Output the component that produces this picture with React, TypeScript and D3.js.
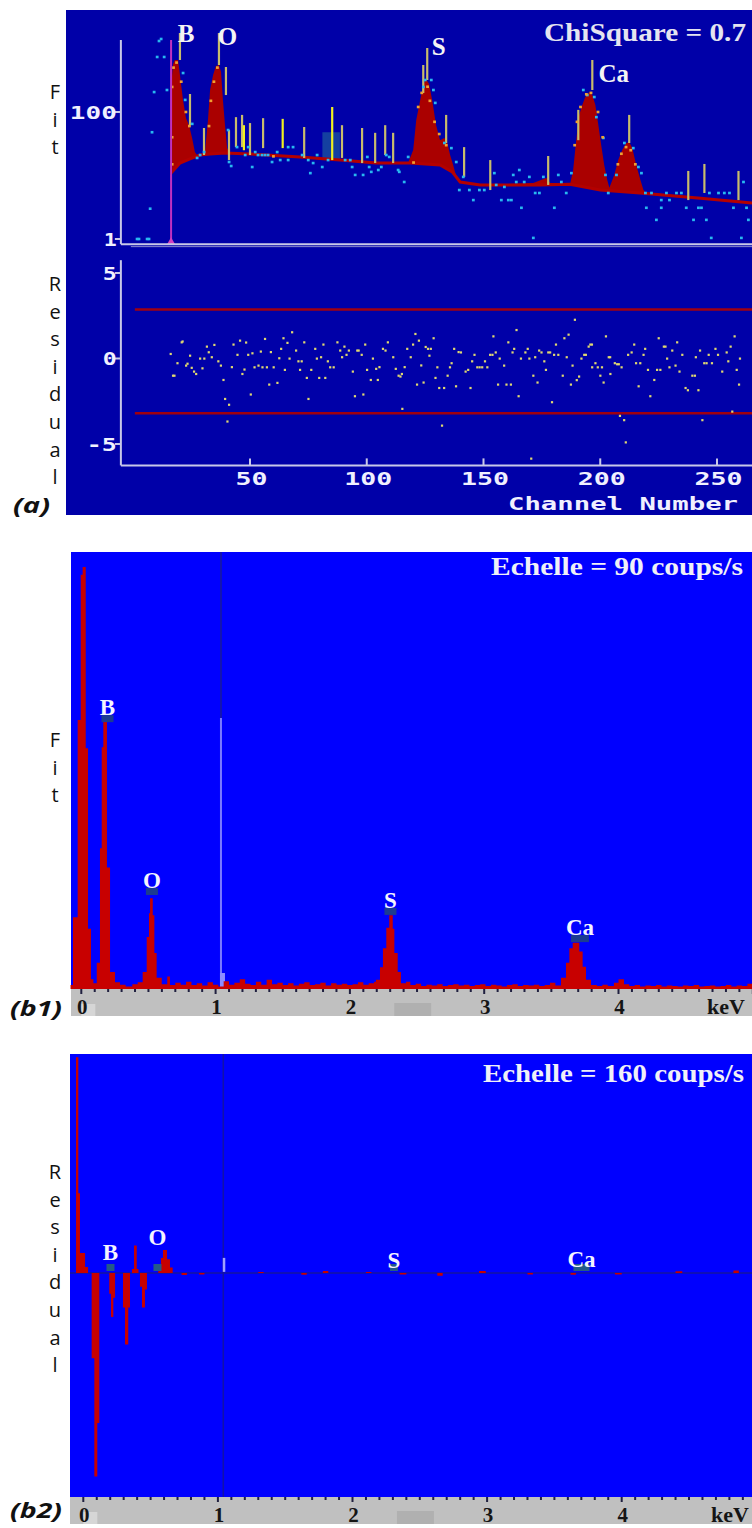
import React from 'react';
import * as d3 from 'd3';

type P = [number, number];

// ================= Panel (a): fit of the spectrum (log counts vs channel) =================
const channelTicks = [50, 100, 150, 200, 250];
const fitTicks = [1, 100];
const residualTicks = [5, 0, -5];
const fitAxisExtent: P = [0.83, 1360];
const residualAxisExtent: P = [-6.25, 5.75];
const channelAxisExtent: P = [-5.3, 265.1];

// background (continuum) under the fit: [channel, counts]
const backgroundCurve: P[] = [
  [16.2, 10.9], [20, 15.7], [24.3, 18.2], [28.6, 21], [32.9, 21.8], [39.3, 22.6], [50, 21.8],
  [71.4, 19.6], [88.6, 17.5], [104, 15.7], [118.6, 15.7], [131.4, 14.6], [136.6, 11.4], [140, 7.9],
  [148.6, 7.1], [174.3, 7.1], [187, 7.3], [200, 5.9], [217, 5.3], [243, 4.4], [265, 3.7],
];

// total fit: [channel, counts]
const fitCurve: P[] = [
  [16.2, 10.9], [16.3, 266], [17.0, 560], [17.8, 659], [19.2, 659], [20.0, 383], [21.3, 155],
  [22.6, 80], [23.9, 62], [25.2, 39], [26.4, 23.4], [27.3, 21], [28.6, 21.5], [30.3, 22],
  [30.7, 23], [32.0, 75], [32.9, 222], [34.2, 383], [35.4, 530], [36.7, 550], [37.6, 427],
  [38.4, 155], [39.3, 62], [40.2, 27], [41.0, 23.4], [42, 22.6], [50, 22], [60, 21], [71.4, 19.6],
  [80, 18.5], [88.6, 17.5], [95, 16.5], [104, 15.7], [117.7, 15.7], [119.9, 25.2], [121.2, 75],
  [122.9, 155], [124.2, 266], [125.4, 331], [126.7, 276], [128.0, 155], [129.7, 62], [131.4, 36],
  [133.2, 39], [134.4, 33.7], [135.7, 21], [137.0, 14.6], [137.9, 11], [139.2, 8.2], [141, 7.6],
  [150, 7.1], [171.3, 7.6], [176.9, 9.1], [178.6, 7.6], [187.2, 7.6], [188.4, 12.2], [189.7, 36],
  [191.0, 90], [192.3, 129], [193.6, 172], [195.3, 206], [196.6, 185], [197.9, 129], [199.2, 62],
  [200.4, 30.2], [201.7, 14.6], [203.0, 8.5], [203.9, 6.4], [204.7, 7.6], [206.0, 10.2],
  [207.7, 17.5], [209.4, 25.2], [211.2, 32.5], [212.4, 33.7], [213.7, 27.1], [215.4, 14.6],
  [217.2, 8.5], [218.5, 5.9], [219.4, 5.4], [240, 4.6], [265, 3.7],
];

// measured data points: [channel, counts]
const dataCyan: P[] = [
  [1.6, 1.0], [2.4, 1.0], [5.9, 1.0], [6.7, 1.0], [7.2, 3.0], [8.0, 48], [8.9, 206], [10.2, 735], [11.0, 1312],
  [11.9, 1412], [13.2, 735], [14.4, 222], [21.3, 411], [22.2, 155], [25.2, 65], [28.6, 21], [27.3, 18.9],
  [30.3, 23.4], [40.6, 52], [41.0, 16.3], [41.9, 14.1], [44.4, 28], [47.9, 21], [49.2, 28], [50.9, 13.6],
  [52.2, 23.4], [53.4, 21], [55.1, 21], [56.4, 21], [57.7, 21], [59.4, 16.3], [61.6, 23.4], [62.9, 17.5],
  [66.3, 28], [68.4, 28], [66.3, 17.5], [72.3, 21], [74.9, 17.5], [75.8, 10.9], [77.0, 15.7], [78.7, 21],
  [80.9, 13.6], [83.4, 17.5], [90.7, 17.5], [92.9, 17.5], [93.7, 13.6], [95.0, 10.2], [98.4, 10.2],
  [100.2, 19.6], [101.0, 13.6], [101.9, 11.4], [104.9, 12.2], [106.2, 13.6], [108.3, 21], [109.6, 19.6],
  [113.4, 12.2], [113.9, 11.4], [116.0, 7.9], [117.7, 19.6], [124.2, 248], [125.0, 319], [127.6, 319],
  [128.5, 222], [129.3, 139], [133.2, 32.5], [136.2, 27], [138.3, 16.3], [139.6, 5.9], [141.3, 9.5],
  [143.9, 5.9], [145.6, 4.1], [148.2, 5.9], [150.3, 5.9], [154.6, 10.9], [155.4, 7.1], [157.6, 4.1],
  [158.9, 6.6], [160.6, 4.1], [161.9, 4.1], [162.7, 10.2], [164.0, 7.9], [165.3, 12.2], [166.2, 3.1],
  [167.4, 7.9], [169.6, 9.5], [171.3, 1.04], [172.1, 5.3], [173.9, 5.3], [175.6, 9.5], [180.3, 3.1],
  [182.0, 10.2], [183.3, 7.9], [185.4, 5.3], [187.6, 10.9], [192.7, 222], [194.4, 185], [197.4, 172],
  [198.3, 83], [201.3, 39], [202.2, 10.2], [203.4, 5.3], [206.9, 10.2], [210.3, 32.5], [214.1, 27],
  [216.3, 13.6], [217.6, 10.9], [219.3, 5.3], [219.7, 3.1], [221.9, 5.3], [224.0, 2.0], [226.1, 3.1],
  [226.1, 4.1], [228.3, 5.3], [229.6, 4.1], [232.6, 5.3], [234.7, 5.3], [236.8, 3.1], [239.9, 2.0],
  [242.0, 3.1], [243.3, 3.1], [245.4, 2.0], [246.7, 5.3], [247.5, 1.04], [250.6, 5.3], [253.1, 5.3],
  [255.3, 5.3], [257.0, 3.1], [260.4, 1.04], [261.3, 7.9], [262.6, 3.1], [263.4, 2.0],
];
const dataOrange: P[] = [
  [16.6, 248], [17.2, 500], [18.5, 600], [20.5, 300], [22.5, 100], [24.0, 60], [16.6, 40], [16.6, 15],
  [32.4, 60], [33.2, 150], [34.5, 300], [36.0, 500], [122, 120], [123.5, 200], [126, 250], [127, 150],
  [129, 70], [131, 45], [134, 30], [189, 30], [190, 70], [191.5, 120], [194, 190], [196, 200],
  [199, 100], [201, 40], [207.5, 15], [209, 22], [211, 28], [213, 25], [215, 15], [60, 20], [120, 16],
];

// vertical marker lines: [channel, low counts, high counts]
const markerLines: [number, number, number][] = [
  [20, 659, 1754], [24.3, 62, 192], [30.3, 21, 56], [36.7, 550, 1754], [39.7, 185, 511],
  [41, 17.5, 52], [44, 28, 83], [46.6, 28, 90], [47.4, 25, 62], [50, 21, 67], [55.6, 27, 80],
  [64, 27, 78], [73.2, 18.9, 58], [85.2, 17.5, 120], [89.4, 18.9, 62], [98, 15.7, 56],
  [103.6, 15.7, 47], [107.9, 21, 62], [111.3, 15.7, 47], [124.2, 199, 550], [125.9, 319, 1018],
  [134, 32.5, 90], [141.7, 9.5, 28], [152.9, 5.9, 17.5], [177.7, 7.1, 20.3], [190.6, 36, 108],
  [196.6, 222, 659], [212.4, 32.5, 90], [237.7, 4.1, 11.8], [244.6, 5.3, 15.2], [259.2, 4.1, 11.8],
];
const brightMarkerChannels = [47.4, 64, 85.2];

// normalised residuals: [channel, residual]
const residuals: P[] = [
  [16, 0.27], [17, -1.0], [17.6, -1.0], [18.9, -0.27], [20.7, 0.95], [21.1, 1.0], [22.6, -0.41],
  [23.2, -0.3], [24.3, 0.17], [25, -0.54], [26, -0.76], [26.9, -0.9], [28.6, 0], [29.6, -0.57],
  [30.4, 0], [31.5, 0.7], [32.3, 0.37], [33.6, 0.08], [34.7, 0.8], [36.4, -0.16], [37.5, -0.41],
  [38.6, -1.25], [39.3, -2.36], [41, -2.7], [40.3, -3.68], [42.2, -0.5], [42.9, 0.82], [44.6, 0.22],
  [45.7, 1.05], [46.7, -0.9], [47.6, -0.64], [48.3, 0.94], [49.2, 0.22], [50.3, -2.1], [51, 0.31],
  [51.9, -0.51], [53.6, -0.41], [54.6, 0.41], [55.3, -0.51], [56.4, 1.15], [57.2, -0.51], [58.2, -1.52],
  [58.9, 0.38], [60.1, -0.51], [61.7, -1.42], [62.5, 0.02], [63.3, 0.57], [64.3, 1.19], [64.9, -0.66],
  [66, 0.92], [66.9, 0], [68, 1.54], [69.7, 0.47], [70.7, -0.16], [71.4, -0.66], [72.1, -0.16],
  [73.2, 0.95], [74.3, -1.13], [75, -2.36], [76.2, -0.66], [77.9, 0.57], [78.6, 0], [79.6, -1.13],
  [80.4, 0.08], [81.4, 0.82], [82.2, -1.13], [83.3, -0.16], [84.3, -0.51], [85.8, -0.51], [87.4, 0.95],
  [88.6, 0.47], [89.4, 0.08], [90.4, 0.7], [91.3, 0.22], [92.3, 0.47], [94, -0.76], [94.9, -2.2],
  [95.9, 0.47], [96.5, 0.47], [97.8, 0.22], [98.5, -2.1], [99.3, 0.82], [100.1, -0.66], [101.7, -1.25],
  [102.6, 0], [104, -0.6], [104.7, -1.25], [105.4, -0.5], [106.9, 0.57], [108, 0.47], [109, 0.95],
  [111.3, 0.08], [112.4, -0.6], [113.6, -1.0], [114.4, -1.05], [115, -0.9], [115.2, -2.94], [116.2, -0.5],
  [117.3, 0.57], [118.8, 0.08], [119.8, 0.82], [120.8, 1.44], [121.5, -1.52], [122.3, 1.05], [123.3, -0.4],
  [124.3, -1.4], [125.2, 0.68], [126.2, 0.57], [126.8, 0.17], [127.4, 0.57], [128.6, 1.19], [129.4, -1.13],
  [130.2, -0.51], [131, -1.72], [132.2, -3.92], [133.1, -1.72], [134.6, -1.0], [135.6, -0.51],
  [136.3, -0.27], [137.4, 0.57], [138.2, -1.62], [139.3, 0.38], [140.3, 0.36], [142.3, -0.76],
  [143.4, -0.66], [144.4, -1.72], [145.1, -0.16], [146.1, 0.22], [147.3, -0.51], [148.3, -0.51],
  [149.4, -0.51], [150.6, -0.16], [151.6, -0.51], [152.8, 0.22], [153.8, 0.22], [154.2, 1.3],
  [155.2, 0.36], [156.2, -1.52], [156.9, 0], [158.8, -0.41], [159.8, -1.52], [160.6, 0.95],
  [161.7, -1.52], [162.4, 0.36], [163.1, 0.57], [164.1, 1.67], [165, -2.2], [166, 0], [167.9, 0.36],
  [168.9, 0.57], [169.6, 0], [170.4, -5.85], [171.3, -1.0], [172.1, 0.08], [173.1, -1.4], [173.8, 0.47],
  [174.8, 0.36], [176, -0.16], [176.7, -0.66], [177.7, 0.36], [178.5, 0.36], [179.3, -2.55],
  [180.2, 0.22], [181, 0.82], [182, 0.22], [183.9, -1.0], [184.6, 1.19], [185.6, 0.08], [186.4, 1.4],
  [187.4, -1.52], [188.1, -0.41], [189.1, 2.27], [189.9, -1.26], [190.9, -1.05], [191.9, 0],
  [193.1, 0.22], [193.8, 0.22], [195, 0.7], [195.7, 0.82], [196.4, 0.82], [196.5, -0.51], [197.9, -0.27],
  [198.9, -0.51], [200, -1.0], [200.7, -0.51], [201.4, -1.4], [202.4, 1.3], [203.6, 0.08], [204.2, 0.08],
  [204.3, -0.9], [206.2, -0.27], [207.2, -0.33], [207.9, -0.33], [208.4, -3.35], [209.1, -0.51],
  [210.2, -3.6], [210.9, -4.9], [211.9, 0.22], [213.4, 0.36], [214.5, 0.82], [215.3, -0.27],
  [216.4, -1.62], [217.1, -0.27], [218.5, 0.22], [219.2, 0.57], [220.4, -0.66], [221.4, -2.2],
  [223.1, -1.25], [224.3, -0.66], [225, 1.19], [225.7, -0.66], [227.2, 0.7], [227.9, 0.7], [228.6, 0],
  [229.6, -0.51], [230.8, 0.47], [232.2, -0.41], [232.9, 0.95], [233.9, -0.76], [235.1, 0.22],
  [236.5, -1.72], [237.5, -1.85], [239.4, -1.0], [240.5, -1.0], [240.9, 0.08], [242, -1.85],
  [242.7, 0.47], [243.7, -3.6], [244.5, -0.27], [245.5, -0.27], [246.4, 0.22], [247.8, -0.27],
  [249.3, 0.57], [250.4, 0.22], [252.2, -0.76], [254.1, 0.36], [254.8, -0.16], [255.8, 0.7],
  [256.5, -3.1], [257.5, 1.3], [258.4, -0.66], [259.4, -1.52], [259.8, 0],
];
const residualLimits = [2.87, -3.2];
const residualLimitStart = 0.7;

const peakLabelsA = [
  { text: 'B', ch: 22.6, counts: 1266 },
  { text: 'O', ch: 40.4, counts: 1135 },
  { text: 'S', ch: 130.8, counts: 790 },
  { text: 'Ca', ch: 205.8, counts: 297 },
];
const startChannel = 16.2;
const startSegment: P = [10.2, 75];
const highlightChannels: P = [81, 88.5];
const highlightCounts: P = [17.5, 48];

// ================= Panel (b1): measured spectrum (counts/s vs keV) =================
const keVTicks = [0, 1, 2, 3, 4];
const cursorKeV = 1.04;
const spectrumB1: P[] = [
  [-0.08, 0.8], [-0.062, 14.8], [-0.027, 55.4], [-0.004, 85.3], [0.010, 86.9], [0.033, 49.6],
  [0.050, 12.4], [0.072, 2.0], [0.09, 1.2], [0.115, 5.4], [0.139, 29], [0.152, 49.8], [0.164, 55.4],
  [0.191, 25], [0.214, 3.5], [0.251, 1.4], [0.288, 0.9], [0.33, 0.5], [0.38, 1.0], [0.42, 1.4],
  [0.457, 3.5], [0.487, 10.7], [0.504, 15.6], [0.512, 18.7], [0.532, 15.2], [0.544, 7.4], [0.561, 2.3],
  [0.599, 1.0], [0.64, 2.6], [0.66, 0.8], [0.70, 1.3], [0.74, 0.9], [0.78, 1.5], [0.82, 0.8],
  [0.86, 1.2], [0.90, 0.7], [0.94, 1.4], [0.98, 0.9], [1.02, 0.5], [1.06, 1.6], [1.10, 0.9],
  [1.14, 1.3], [1.18, 2.0], [1.22, 1.1], [1.26, 0.8], [1.30, 1.5], [1.34, 0.9], [1.38, 1.9],
  [1.42, 1.0], [1.46, 1.3], [1.50, 0.8], [1.54, 1.2], [1.58, 0.7], [1.62, 1.1], [1.66, 1.4],
  [1.70, 0.8], [1.74, 1.0], [1.78, 1.3], [1.82, 0.7], [1.86, 1.2], [1.90, 0.9], [1.94, 1.1],
  [1.98, 0.8], [2.02, 1.0], [2.06, 1.4], [2.10, 0.9], [2.14, 1.2], [2.18, 1.5], [2.194, 1.9],
  [2.224, 4.5], [2.246, 8.4], [2.271, 12.6], [2.293, 15.2], [2.319, 12.4], [2.331, 7.4], [2.356, 3.5],
  [2.380, 1.2], [2.418, 1.5], [2.45, 0.8], [2.49, 1.1], [2.53, 0.6], [2.57, 0.9], [2.61, 0.7],
  [2.65, 1.0], [2.69, 0.6], [2.73, 0.8], [2.77, 1.0], [2.81, 0.7], [2.85, 0.9], [2.89, 0.6],
  [2.93, 0.8], [2.97, 1.0], [3.01, 0.6], [3.05, 0.9], [3.09, 0.7], [3.13, 0.5], [3.17, 0.8],
  [3.21, 1.0], [3.25, 0.6], [3.29, 0.8], [3.33, 0.7], [3.37, 0.9], [3.41, 0.6], [3.45, 0.8],
  [3.49, 1.3], [3.53, 0.7], [3.572, 2.3], [3.609, 5.4], [3.634, 8.4], [3.659, 9.5], [3.708, 7.7],
  [3.733, 4.6], [3.758, 1.9], [3.795, 0.8], [3.84, 0.6], [3.88, 0.9], [3.92, 0.6], [3.966, 1.3],
  [4.00, 2.0], [4.041, 1.0], [4.08, 0.6], [4.12, 0.8], [4.16, 0.5], [4.20, 0.7], [4.24, 0.6],
  [4.28, 0.8], [4.32, 0.5], [4.36, 0.7], [4.40, 0.6], [4.44, 0.5], [4.48, 0.7], [4.52, 0.6],
  [4.56, 0.8], [4.60, 0.5], [4.64, 0.6], [4.68, 0.7], [4.72, 0.5], [4.76, 0.6], [4.80, 0.8],
  [4.84, 0.5], [4.88, 0.7], [4.92, 0.6], [4.96, 1.1], [5.01, 0.6],
];
const peakLabelsB1 = [
  { text: 'B', keV: 0.195, v: 56.4 },
  { text: 'O', keV: 0.526, v: 20.8 },
  { text: 'S', keV: 2.302, v: 16.7 },
  { text: 'Ca', keV: 3.713, v: 11.1 },
];

// ================= Panel (b2): residual spectrum =================
const residualB2: P[] = [
  [-0.1, 0], [-0.054, 157], [-0.037, 58], [-0.025, 14.5], [0.013, 4.4], [0.035, 0], [0.062, -62],
  [0.082, -148], [0.104, -109], [0.119, 0], [0.193, -15], [0.206, -32], [0.223, -18], [0.236, 0],
  [0.295, -25], [0.310, -52], [0.334, -25], [0.347, 0], [0.362, 3], [0.377, 20], [0.397, 3],
  [0.41, 0], [0.421, -10], [0.436, -25], [0.458, -12], [0.473, 0], [0.557, 5], [0.577, 11],
  [0.592, 16.7], [0.622, 10], [0.644, 4], [0.664, 0], [0.73, -1.5], [0.77, 0], [0.86, -1], [0.9, 0],
  [1.3, 0.8], [1.34, 0], [1.62, -1.2], [1.66, 0], [1.78, 1.5], [1.82, 0], [2.1, 0.8], [2.14, 0],
  [2.35, -1], [2.4, 0], [2.63, -2], [2.67, 0], [2.94, 1.5], [2.99, 0], [3.3, -1], [3.34, 0],
  [3.62, -1.2], [3.66, 0], [3.95, -1], [4.0, 0], [4.4, 1.2], [4.45, 0], [4.83, 1.8], [4.87, 0], [5.0, 0],
];
const peakLabelsB2 = [
  { text: 'B', keV: 0.202, v: 9.5 },
  { text: 'O', keV: 0.551, v: 20.4 },
  { text: 'S', keV: 2.308, v: 3.6 },
  { text: 'Ca', keV: 3.701, v: 4.4 },
];

const minorKeVTicks = d3.range(0, 51).map((i) => i / 10);

// ================= scales =================
const xA = d3.scaleLinear().domain([50, 250]).range([250, 717]);
const yFit = d3.scaleLog().domain([1, 100]).range([239, 112]);
const yRes = d3.scaleLinear().domain([-5, 5]).range([444, 273]);

const xB1 = d3.scaleLinear().domain([0, 4]).range([81.3, 618.5]);
const yB1 = d3.scaleLinear().domain([0, 90]).range([989, 552]);
const xB2 = d3.scaleLinear().domain([0, 4]).range([83.3, 621.7]);
const yB2 = d3.scaleLinear().domain([-160, 160]).range([1493, 1053]);

const AXIS = '#c8c8e8';
const MONO = "'DejaVu Sans Mono', monospace";
const SERIF = "'Liberation Serif', 'DejaVu Serif', serif";
const SANS = "'Open Sans', 'Noto Sans', sans-serif";

function VerticalWord({ word, x, y0, step }: { word: string; x: number; y0: number; step: number }) {
  return (
    <g>
      {word.split('').map((c, i) => (
        <text key={i} x={x} y={y0 + i * step} fontFamily={SANS} fontSize={20} fill="#111" textAnchor="middle">{c}</text>
      ))}
    </g>
  );
}

function PanelA() {
  const line = d3.line<P>().x((d) => xA(d[0])).y((d) => yFit(d[1]));
  const polygon = line([...fitCurve, ...backgroundCurve.slice().reverse()]) + 'Z';
  const bgPath = line(backgroundCurve) || '';
  const axX0 = xA(channelAxisExtent[0]);
  const axX1 = xA(channelAxisExtent[1]);
  const yTop = yFit(fitAxisExtent[1]);
  const yBot = yFit(fitAxisExtent[0]);
  const rTop = yRes(residualAxisExtent[1]);
  const rBot = yRes(residualAxisExtent[0]);
  return (
    <g>
      <rect x={66} y={10} width={686} height={505} fill="#0000a8" />
      <rect x={xA(highlightChannels[0])} y={yFit(highlightCounts[1])}
        width={xA(highlightChannels[1]) - xA(highlightChannels[0])}
        height={yFit(highlightCounts[0]) - yFit(highlightCounts[1])} fill="#1440a0" />
      <path d={polygon} fill="#aa0000" />
      <path d={bgPath} fill="none" stroke="#b40000" strokeWidth={3} />
      <line x1={xA(startChannel)} x2={xA(startChannel)} y1={yFit(startSegment[1])} y2={yFit(startSegment[0])}
        stroke="#000" strokeWidth={2} />
      {markerLines.map(([c, lo, hi], i) => (
        <line key={i} x1={xA(c)} x2={xA(c)} y1={yFit(hi)} y2={yFit(lo)}
          stroke={brightMarkerChannels.includes(c) ? '#f0f020' : '#c8bc6c'} strokeWidth={2.2} />
      ))}
      {dataCyan.map(([c, v], i) => (
        <rect key={i} x={xA(c) - 1.3} y={yFit(v) - 1.3} width={2.8} height={2.6} fill="#28b8f0" />
      ))}
      {dataOrange.map(([c, v], i) => (
        <rect key={i} x={xA(c) - 1.3} y={yFit(v) - 1.3} width={2.8} height={2.6} fill="#f0a030" />
      ))}
      <line x1={xA(startChannel)} x2={xA(startChannel)} y1={yTop} y2={yBot} stroke="#c030c0" strokeWidth={2} />
      <path d={`M${xA(startChannel) - 4},${yBot} L${xA(startChannel)},${yBot - 7} L${xA(startChannel) + 4},${yBot} Z`} fill="#d040c0" />
      <line x1={axX0} x2={axX0} y1={yTop} y2={yBot} stroke={AXIS} strokeWidth={2} />
      <line x1={axX0} x2={axX1} y1={yBot} y2={yBot} stroke={AXIS} strokeWidth={2} />
      <line x1={axX0 + 10} x2={axX1} y1={yBot + 2.5} y2={yBot + 2.5} stroke="#8888d0" strokeWidth={1} />
      {fitTicks.map((t) => (
        <g key={t}>
          <line x1={axX0 - 6} x2={axX0} y1={yFit(t)} y2={yFit(t)} stroke={AXIS} strokeWidth={2} />
          <text x={axX0 - 4} y={yFit(t) + 6.5} fontFamily={MONO} fontWeight="bold" fontSize={18} fill="#f0f0ff"
            textAnchor="end" textLength={t === 100 ? 47 : 13} lengthAdjust="spacingAndGlyphs">{t}</text>
        </g>
      ))}
      {peakLabelsA.map((p) => (
        <text key={p.text} x={xA(p.ch)} y={yFit(p.counts)} fontFamily={SERIF} fontWeight="bold" fontSize={25}
          fill="#f4f4f4" textAnchor="middle">{p.text}</text>
      ))}
      <text x={746} y={41} fontFamily={SERIF} fontWeight="bold" fontSize={25} fill="#e4e4f0" textAnchor="end"
        textLength={202} lengthAdjust="spacingAndGlyphs">ChiSquare = 0.7</text>
      {residualLimits.map((r) => (
        <line key={r} x1={xA(residualLimitStart)} x2={752} y1={yRes(r)} y2={yRes(r)} stroke="#a00010" strokeWidth={2.5} />
      ))}
      {residuals.map(([c, r], i) => (
        <rect key={i} x={xA(c) - 1} y={yRes(r) - 1} width={2.2} height={2.2} fill="#e0d870" />
      ))}
      <line x1={axX0} x2={axX0} y1={rTop} y2={rBot} stroke={AXIS} strokeWidth={2} />
      <line x1={axX0} x2={axX1} y1={rBot} y2={rBot} stroke={AXIS} strokeWidth={2} />
      {residualTicks.map((t) => (
        <g key={t}>
          <line x1={axX0 - 6} x2={axX0} y1={yRes(t)} y2={yRes(t)} stroke={AXIS} strokeWidth={2} />
          <text x={axX0 - 4} y={yRes(t) + 6.5} fontFamily={MONO} fontWeight="bold" fontSize={18} fill="#f0f0ff"
            textAnchor="end" textLength={t < 0 ? 30 : 14} lengthAdjust="spacingAndGlyphs">{t < 0 ? `-${-t}` : t}</text>
        </g>
      ))}
      {channelTicks.map((t) => (
        <g key={t}>
          <line x1={xA(t)} x2={xA(t)} y1={rBot - 7} y2={rBot} stroke={AXIS} strokeWidth={2} />
          <text x={xA(t) + 1.5} y={rBot + 20} fontFamily={MONO} fontWeight="bold" fontSize={18} fill="#f0f0ff"
            textAnchor="middle" textLength={t < 100 ? 32 : 48} lengthAdjust="spacingAndGlyphs">{t}</text>
        </g>
      ))}
      <text x={508} y={510} fontFamily={MONO} fontWeight="bold" fontSize={18} fill="#f0f0ff"
        textLength={230} lengthAdjust="spacingAndGlyphs">Channel Number</text>
    </g>
  );
}

function GrayAxis({ x, top, scale, keVx, right }: { x: number; top: number; scale: d3.ScaleLinear<number, number>; keVx: number; right: number }) {
  return (
    <g>
      <rect x={x} y={top} width={right - x} height={27} fill="#c0c0c0" />
      <rect x={scale(0)} y={top + 15} width={14} height={12} fill="#d6d6d6" />
      <rect x={scale(2.33)} y={top + 14} width={37} height={13} fill="#b0b0b0" />
      {minorKeVTicks.map((t) => (
        <rect key={t} x={scale(t) - 1} y={top} width={2} height={Number.isInteger(t) ? 5 : 3} fill="#202040" />
      ))}
      {keVTicks.map((t) => (
        <text key={t} x={scale(t) + 1} y={top + 25} fontFamily={SERIF} fontWeight="bold" fontSize={21} fill="#151515"
          textAnchor="middle">{t}</text>
      ))}
      <text x={keVx} y={top + 25} fontFamily={SERIF} fontWeight="bold" fontSize={22} fill="#151515"
        textAnchor="end">keV</text>
    </g>
  );
}

function PanelB1() {
  const area = d3.area<P>().x((d) => xB1(d[0])).y0(yB1(0)).y1((d) => yB1(d[1])).curve(d3.curveStepAfter);
  const cx = xB1(cursorKeV);
  return (
    <g>
      <rect x={71} y={552} width={681} height={437} fill="#0000ff" />
      <line x1={cx} x2={cx} y1={552} y2={718} stroke="#1414b0" strokeWidth={2} />
      <line x1={cx} x2={cx} y1={718} y2={989} stroke="#7a7aff" strokeWidth={2} />
      <rect x={cx - 1} y={973} width={5} height={16} fill="#8c8cff" />
      <path d={area(spectrumB1) || ''} fill="#c80000" />
      {peakLabelsB1.map((p) => (
        <g key={p.text}>
          <rect x={xB1(p.keV) - (p.text === 'Ca' ? 9 : 6)} y={yB1(p.v)} width={p.text === 'Ca' ? 18 : 12} height={7} fill="#1c3c90" />
          <text x={xB1(p.keV)} y={yB1(p.v)} fontFamily={SERIF} fontWeight="bold" fontSize={23} fill="#f4f4ff"
            textAnchor="middle">{p.text}</text>
        </g>
      ))}
      <text x={743} y={575} fontFamily={SERIF} fontWeight="bold" fontSize={25} fill="#f0f0f8" textAnchor="end"
        textLength={252} lengthAdjust="spacingAndGlyphs">Echelle = 90 coups/s</text>
      <GrayAxis x={71} top={989} scale={xB1} keVx={745} right={752} />
    </g>
  );
}

function PanelB2() {
  const area = d3.area<P>().x((d) => xB2(d[0])).y0(yB2(0)).y1((d) => yB2(d[1])).curve(d3.curveStepAfter);
  const cx = xB2(cursorKeV);
  const zeroY = yB2(0);
  return (
    <g>
      <rect x={70} y={1054} width={682} height={443} fill="#0000ff" />
      <line x1={cx} x2={cx} y1={1054} y2={1497} stroke="#1212a8" strokeWidth={1.6} />
      <line x1={70} x2={752} y1={zeroY} y2={zeroY} stroke="#1414a0" strokeWidth={1.5} />
      <path d={area(residualB2) || ''} fill="#c80000" />
      <rect x={cx - 0.5} y={yB2(11)} width={2.5} height={14} fill="#a0a0ff" />
      {peakLabelsB2.map((p) => (
        <g key={p.text}>
          <rect x={xB2(p.keV) - (p.text === 'Ca' ? 8 : 4)} y={zeroY - 9} width={p.text === 'Ca' ? 16 : 8} height={7} fill="#245a88" />
          <text x={xB2(p.keV)} y={yB2(p.v)} fontFamily={SERIF} fontWeight="bold" fontSize={23} fill="#f4f4ff"
            textAnchor="middle">{p.text}</text>
        </g>
      ))}
      <text x={744} y={1082} fontFamily={SERIF} fontWeight="bold" fontSize={25} fill="#f0f0f8" textAnchor="end"
        textLength={261} lengthAdjust="spacingAndGlyphs">Echelle = 160 coups/s</text>
      <GrayAxis x={70} top={1497} scale={xB2} keVx={749} right={752} />
    </g>
  );
}

export default function App() {
  return (
    <svg width={752} height={1528} style={{ position: 'absolute', left: 0, top: 0, background: '#fff' }}>
      <rect x={0} y={0} width={752} height={1528} fill="#fff" />
      <PanelA />
      <PanelB1 />
      <PanelB2 />
      <VerticalWord word="Fit" x={55} y0={99} step={27.5} />
      <VerticalWord word="Residual" x={55} y0={291} step={27.6} />
      <VerticalWord word="Fit" x={55} y0={747} step={27.6} />
      <VerticalWord word="Residual" x={55} y0={1179} step={27.6} />
      <text x={13} y={513} fontFamily={SANS} fontWeight="bold" fontStyle="italic" fontSize={22} fill="#111"
        textLength={37} lengthAdjust="spacingAndGlyphs">(a)</text>
      <text x={10} y={1016} fontFamily={SANS} fontWeight="bold" fontStyle="italic" fontSize={22} fill="#111"
        textLength={52} lengthAdjust="spacingAndGlyphs">(b1)</text>
      <text x={10} y={1518} fontFamily={SANS} fontWeight="bold" fontStyle="italic" fontSize={22} fill="#111"
        textLength={52} lengthAdjust="spacingAndGlyphs">(b2)</text>
    </svg>
  );
}
